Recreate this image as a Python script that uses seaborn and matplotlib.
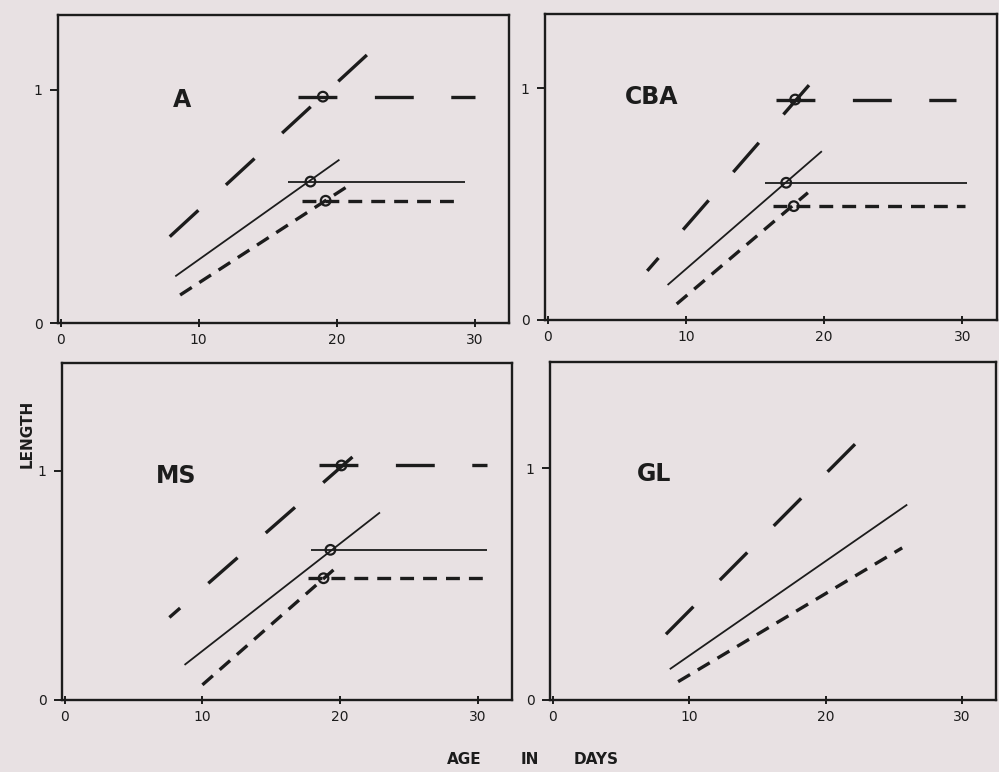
import matplotlib
matplotlib.use('Agg')
import matplotlib.pyplot as plt
import seaborn as sns

sns.set_theme(style='ticks')
plt.rcParams['font.family'] = 'DejaVu Sans'
plt.rcParams['lines.scale_dashes'] = False

PAPER = '#e8e1e3'
INK = '#1c1c1c'

panels = ['A', 'CBA', 'MS', 'GL']

# heavy long-dash curve: rising part, plateau and break point (None = no plateau)
long_rise_x = [[7.9, 22.4], [18.9, 7.2], [20.9, 7.6], [8.3, 22.5]]
long_rise_y = [[0.37, 1.16], [1.013, 0.212], [1.06, 0.36], [0.284, 1.125]]
long_flat_x = [[17.2, 30.0], [16.5, 29.5], [18.5, 30.7], None]
long_flat_y = [0.97, 0.951, 1.023, None]
long_break_x = [19.0, 17.9, 20.1, None]

# thin solid curve
solid_rise_x = [[8.3, 20.2], [8.67, 19.83], [8.7, 22.9], [8.58, 25.99]]
solid_rise_y = [[0.20, 0.70], [0.151, 0.728], [0.153, 0.818], [0.133, 0.844]]
solid_flat_x = [[16.5, 29.3], [15.7, 30.3], [17.9, 30.7], None]
solid_flat_y = [0.606, 0.592, 0.655, None]
solid_break_x = [18.1, 17.25, 19.3, None]

# heavy short-dash curve
short_rise_x = [[8.65, 20.9], [9.33, 18.82], [10.0, 19.8], [9.19, 25.62]]
short_rise_y = [[0.12, 0.59], [0.069, 0.549], [0.066, 0.582], [0.079, 0.657]]
short_flat_x = [[17.5, 28.8], [16.3, 30.2], [17.65, 30.6], None]
short_flat_y = [0.524, 0.491, 0.531, None]
short_break_x = [19.2, 17.8, 18.8, None]

x_ticks = [0, 10, 20, 30]
y_ticks = [0, 1]

# axes boxes in figure fractions, label positions in data units
boxes = [[0.0581, 0.5816, 0.4515, 0.399],
         [0.5455, 0.5855, 0.4525, 0.3964],
         [0.0621, 0.0933, 0.4505, 0.4365],
         [0.5506, 0.0933, 0.4464, 0.4378]]
ytops = [1.32, 1.32, 1.47, 1.46]
label_pos = [(8.1, 0.957), (5.6, 0.961), (6.6, 0.976), (6.2, 0.974)]

styles = {
    'long': dict(lw=2.4, linestyle=(0, (28, 27))),
    'solid': dict(lw=1.3, linestyle='-'),
    'short': dict(lw=2.4, linestyle=(0, (10, 6.5))),
}


def draw_curve(ax, rx, ry, fx, fy, bx, style):
    kw = styles[style]
    sns.lineplot(x=rx, y=ry, ax=ax, sort=False, estimator=None,
                 color=INK, solid_capstyle='butt', dash_capstyle='butt', **kw)
    if fx is not None:
        sns.lineplot(x=fx, y=[fy, fy], ax=ax, sort=False, estimator=None,
                     color=INK, solid_capstyle='butt', dash_capstyle='butt', **kw)
        sns.scatterplot(x=[bx], y=[fy], ax=ax, s=48, facecolor='none',
                        edgecolor=INK, linewidth=1.6, zorder=5)


fig = plt.figure(figsize=(9.99, 7.72), dpi=100)
fig.patch.set_facecolor(PAPER)

for i, name in enumerate(panels):
    ax = fig.add_axes(boxes[i])
    ax.set_facecolor(PAPER)
    draw_curve(ax, long_rise_x[i], long_rise_y[i], long_flat_x[i],
               long_flat_y[i], long_break_x[i], 'long')
    draw_curve(ax, solid_rise_x[i], solid_rise_y[i], solid_flat_x[i],
               solid_flat_y[i], solid_break_x[i], 'solid')
    draw_curve(ax, short_rise_x[i], short_rise_y[i], short_flat_x[i],
               short_flat_y[i], short_break_x[i], 'short')

    ax.text(label_pos[i][0], label_pos[i][1], name, fontsize=17,
            fontweight='bold', color=INK, va='center', ha='left')

    ax.set_xlim(-0.2, 32.5)
    ax.set_ylim(0, ytops[i])
    ax.set_xticks(x_ticks)
    ax.set_xticklabels([str(t) for t in x_ticks])
    ax.set_yticks(y_ticks)
    ax.set_yticklabels([str(t) for t in y_ticks])
    ax.tick_params(axis='y', direction='out', length=6, width=1.4,
                   pad=5, labelsize=10, colors=INK)
    ax.tick_params(axis='x', direction='inout', length=6, width=1.4,
                   pad=4, labelsize=10, colors=INK)
    for sp in ax.spines.values():
        sp.set_visible(True)
        sp.set_color(INK)
        sp.set_linewidth(1.7)
    ax.set_xlabel('')
    ax.set_ylabel('')

fig.text(27 / 999, 1 - 434 / 772, 'LENGTH', rotation=90, fontsize=11,
         fontweight='bold', color=INK, ha='center', va='center')
for word, xc in [('AGE', 464), ('IN', 529.5), ('DAYS', 596)]:
    fig.text(xc / 999, 1 - 759 / 772, word, fontsize=11, fontweight='bold',
             color=INK, ha='center', va='center')

fig.savefig('out.png', dpi=100, facecolor=PAPER)
